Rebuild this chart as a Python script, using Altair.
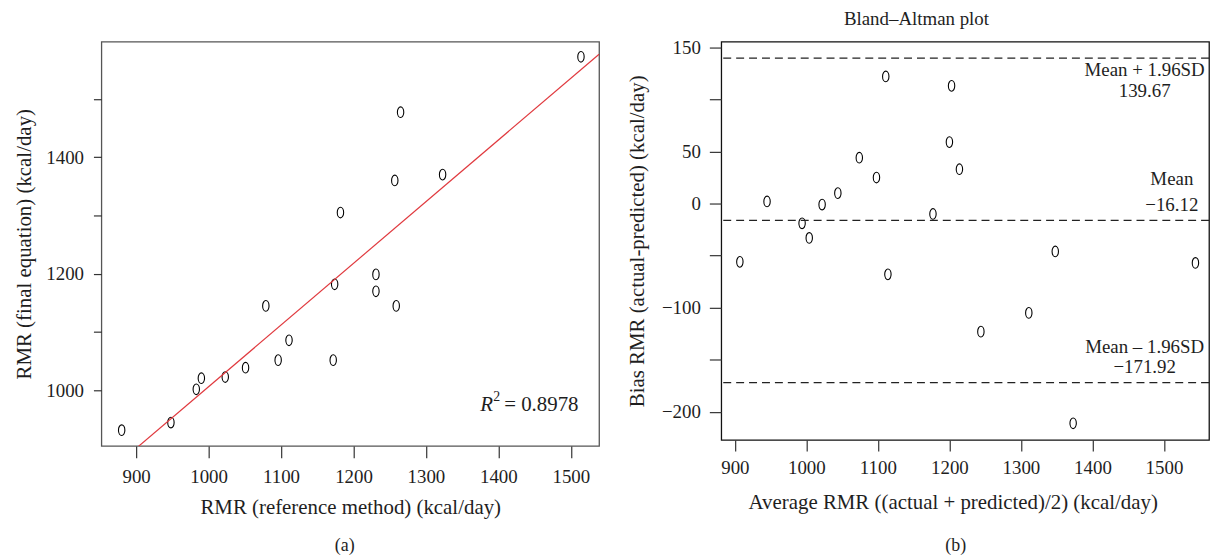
import altair as alt
import pandas as pd

# ---- data ----
ref_rmr = [880, 948, 983, 990, 1023, 1051, 1079, 1096, 1111, 1172, 1174, 1231, 1231, 1259, 1182, 1257, 1265, 1323, 1514]
final_rmr = [932, 945, 1002, 1021, 1023, 1039, 1145, 1052, 1086, 1052, 1182, 1199, 1170, 1145, 1305, 1360, 1477, 1370, 1572]

avg_rmr = [907, 945, 994, 1004, 1022, 1044, 1074, 1098, 1111, 1114, 1177, 1200, 1203, 1214, 1244, 1311, 1348, 1373, 1544]
bias_rmr = [-56, 2, -19, -33, -1, 10, 44, 25, 122, -68, -10, 59, 113, 33, -123, -105, -46, -211, -57]

reg_intercept = -50.5
reg_slope = 1.057
r2_text = "= 0.8978"

limit_values = [139.67, -16.12, -171.92]
ann_labels = ["Mean + 1.96SD", "139.67", "Mean", "\u221216.12", "Mean \u2013 1.96SD", "\u2212171.92"]
ann_x = [1473, 1473, 1511, 1511, 1473, 1473]
ann_y = [127.8, 108.3, 24, -1.3, -137.3, -156.8]

x_ticks = [900, 1000, 1100, 1200, 1300, 1400, 1500]
left_y_ticks = [1000, 1100, 1200, 1300, 1400, 1500]
right_y_ticks = [150, 100, 50, 0, -50, -100, -150, -200]

FONT = "Liberation Serif"
TXT = "#1e1e1e"
ELLIPSE = "M0,-1A0.6,1,0,1,1,0,1A0.6,1,0,1,1,0,-1Z"

LX = [852, 1539]
LY = [905, 1598]
RX = [881, 1563]
RY = [-227, 155.5]

df1 = pd.DataFrame({"ref": ref_rmr, "final": final_rmr})
df2 = pd.DataFrame({"avg": avg_rmr, "bias": bias_rmr})
line_df = pd.DataFrame({"ref": LX, "final": [reg_intercept + reg_slope * v for v in LX]})
lim_df = pd.DataFrame({"y": limit_values})
ann_df = pd.DataFrame({"x": ann_x, "y": ann_y, "t": ann_labels})


def axis_common(**kw):
    base = dict(labelFont=FONT, labelFontSize=19, titleFont=FONT, titleFontSize=21,
                titleFontWeight="normal", labelColor=TXT, titleColor=TXT, format="d",
                tickColor="#333", tickWidth=1.2, domain=False, grid=False)
    base.update(kw)
    return alt.Axis(**base)


lxs = alt.Scale(domain=LX, nice=False, zero=False)
lys = alt.Scale(domain=LY, nice=False, zero=False)

left_pts = alt.Chart(df1).mark_point(shape=ELLIPSE, size=115, filled=False, stroke="black",
                                     strokeWidth=1.1, opacity=1).encode(
    x=alt.X("ref:Q", scale=lxs,
            axis=axis_common(values=x_ticks, title="RMR (reference method) (kcal/day)",
                             tickSize=12, labelPadding=10, titlePadding=10)),
    y=alt.Y("final:Q", scale=lys,
            axis=axis_common(values=left_y_ticks, title="RMR (final equation) (kcal/day)",
                             labelExpr="datum.value % 200 == 0 ? datum.label : ''",
                             tickSize=8, labelPadding=10, titlePadding=11)),
)

reg_line = alt.Chart(line_df).mark_line(color="#e0393e", strokeWidth=1.2, clip=True).encode(
    x=alt.X("ref:Q", scale=lxs), y=alt.Y("final:Q", scale=lys))

r_df = pd.DataFrame({"x": [1375], "y": [975], "t": ["R"]})
sup_df = pd.DataFrame({"x": [1393], "y": [988], "t": ["2"]})
eq_df = pd.DataFrame({"x": [1408], "y": [975], "t": [r2_text]})

r_txt = alt.Chart(r_df).mark_text(font=FONT, fontSize=21, fontStyle="italic", align="left",
                                  baseline="middle", color=TXT).encode(
    x=alt.X("x:Q", scale=lxs), y=alt.Y("y:Q", scale=lys), text="t:N")
sup_txt = alt.Chart(sup_df).mark_text(font=FONT, fontSize=14, align="left",
                                      baseline="middle", color=TXT).encode(
    x=alt.X("x:Q", scale=lxs), y=alt.Y("y:Q", scale=lys), text="t:N")
eq_txt = alt.Chart(eq_df).mark_text(font=FONT, fontSize=21, align="left",
                                    baseline="middle", color=TXT).encode(
    x=alt.X("x:Q", scale=lxs), y=alt.Y("y:Q", scale=lys), text="t:N")

lab_a = alt.Chart(pd.DataFrame({"t": ["(a)"]})).mark_text(
    font=FONT, fontSize=18, color=TXT, baseline="middle").encode(
    text="t:N", x=alt.value(245), y=alt.value(508))

left = alt.layer(left_pts, reg_line, r_txt, sup_txt, eq_txt, lab_a).properties(
    width=501, height=407, view=alt.ViewBackground(stroke="#555", strokeWidth=1.3))

# ---- right panel ----
rxs = alt.Scale(domain=RX, nice=False, zero=False)
rys = alt.Scale(domain=RY, nice=False, zero=False)

right_pts = alt.Chart(df2).mark_point(shape=ELLIPSE, size=115, filled=False, stroke="black",
                                      strokeWidth=1.1, opacity=1).encode(
    x=alt.X("avg:Q", scale=rxs,
            axis=axis_common(values=x_ticks,
                             title="Average RMR ((actual + predicted)/2) (kcal/day)",
                             tickSize=11, labelPadding=8, titlePadding=14, titleX=233)),
    y=alt.Y("bias:Q", scale=rys,
            axis=axis_common(values=right_y_ticks,
                             title="Bias RMR (actual-predicted) (kcal/day)",
                             labelExpr="indexof([150, 50, 0, -100, -200], datum.value) >= 0 ? datum.label : ''",
                             tickSize=12, labelPadding=9, titlePadding=14)),
)

lim_rules = alt.Chart(lim_df).mark_rule(color="#222", strokeWidth=1.1, strokeDash=[8, 5]).encode(
    y=alt.Y("y:Q", scale=rys))

ann = alt.Chart(ann_df).mark_text(font=FONT, fontSize=19, color=TXT, baseline="middle",
                                  align="center").encode(
    x=alt.X("x:Q", scale=rxs), y=alt.Y("y:Q", scale=rys), text="t:N")

lab_b = alt.Chart(pd.DataFrame({"t": ["(b)"]})).mark_text(
    font=FONT, fontSize=18, color=TXT, baseline="middle").encode(
    text="t:N", x=alt.value(236), y=alt.value(508))

right = alt.layer(right_pts, lim_rules, ann, lab_b).properties(
    width=491, height=401,
    view=alt.ViewBackground(stroke="#111", strokeWidth=1.3),
    title=alt.TitleParams("Bland\u2013Altman plot", font=FONT, fontSize=19, fontWeight="normal",
                          color=TXT, anchor="middle", dx=-49, offset=9),
)

chart = alt.hconcat(left, right, spacing=123, bounds="flush").properties(
    padding={"left": 5, "top": 0, "right": 2, "bottom": 0},
    background="white",
)

chart.save("out.html", embed_options={"renderer": "svg", "actions": False})
